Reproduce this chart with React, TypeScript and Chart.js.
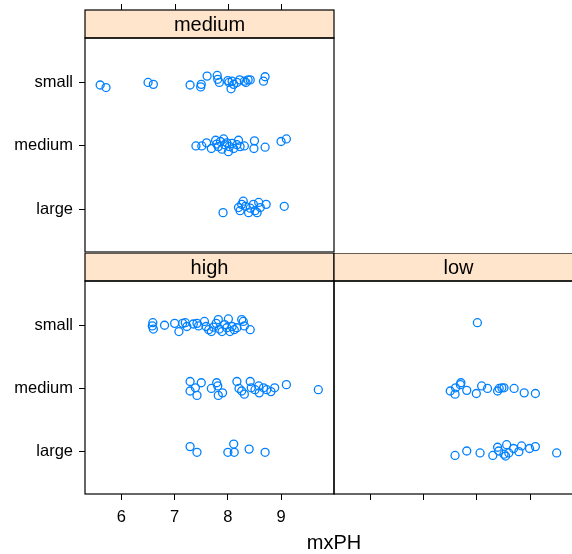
import React, { useEffect, useRef } from "react";
import { Chart, registerables } from "chart.js";

Chart.register(...registerables);

// ---------- data ----------
const sizeLevels = ["large", "medium", "small"]; // y = 1, 2, 3
const xTickValues = [6, 7, 8, 9];
const xLabel = "mxPH";

// speed = medium
const mediumSmallPH = [5.6, 5.71, 6.5, 6.6, 7.29, 7.49, 7.5, 7.61, 7.8, 7.81, 7.84, 8.0, 8.02, 8.06, 8.08, 8.11, 8.17, 8.22, 8.31, 8.34, 8.38, 8.42, 8.67, 8.7];
const mediumSmallJitter = [-0.04, -0.08, 0, -0.03, -0.04, -0.07, -0.03, 0.1, 0.11, 0.05, 0.0, 0.03, 0, -0.1, 0.02, -0.03, 0, 0.04, 0.02, 0, 0.04, 0.04, 0.02, 0.09];
const mediumMediumPH = [7.4, 7.51, 7.6, 7.69, 7.77, 7.79, 7.82, 7.86, 7.89, 7.92, 7.94, 7.98, 8.01, 8.03, 8.08, 8.11, 8.17, 8.2, 8.23, 8.31, 8.5, 8.49, 8.7, 9.0, 9.1];
const mediumMediumJitter = [0, 0, 0.05, -0.04, 0.09, 0.03, -0.01, 0.07, -0.05, 0.11, 0.02, 0.05, -0.09, -0.01, 0.04, -0.04, 0.02, 0.09, -0.01, 0, 0.08, -0.04, -0.02, 0.07, 0.11];
const mediumLargePH = [7.91, 8.2, 8.23, 8.26, 8.29, 8.33, 8.39, 8.42, 8.48, 8.51, 8.55, 8.58, 8.61, 8.72, 9.06];
const mediumLargeJitter = [-0.05, 0.03, -0.02, 0.08, 0.13, 0.05, -0.05, 0.02, 0.08, -0.02, -0.05, 0.11, 0.03, 0.08, 0.05];

// speed = high
const highSmallPH = [6.59, 6.58, 6.6, 6.81, 7.0, 7.08, 7.15, 7.2, 7.23, 7.35, 7.42, 7.45, 7.56, 7.59, 7.64, 7.69, 7.73, 7.78, 7.82, 7.84, 7.89, 7.94, 7.98, 8.01, 8.04, 8.08, 8.12, 8.17, 8.26, 8.29, 8.31, 8.42];
const highSmallJitter = [0.04, -0.01, -0.06, 0, 0.03, -0.1, 0.03, 0.04, -0.02, 0.02, 0.03, -0.01, 0.06, -0.02, -0.07, -0.1, -0.03, 0.03, 0.09, -0.06, -0.1, 0.01, -0.04, 0.1, -0.1, -0.02, -0.07, -0.04, 0.09, 0.06, -0.01, -0.07];
const highMediumPH = [7.29, 7.29, 7.39, 7.42, 7.5, 7.69, 7.79, 7.81, 7.82, 7.9, 8.17, 8.21, 8.26, 8.31, 8.42, 8.44, 8.51, 8.58, 8.59, 8.67, 8.73, 8.81, 8.88, 9.1, 9.7];
const highMediumJitter = [0.11, -0.04, 0.01, -0.11, 0.09, 0, 0.09, 0.04, -0.11, -0.07, 0.11, 0, -0.04, -0.09, 0.11, 0.01, -0.02, 0.04, -0.07, 0.01, -0.02, -0.05, 0.01, 0.06, -0.02];
const highLargePH = [7.29, 7.42, 8.0, 8.11, 8.12, 8.4, 8.7];
const highLargeJitter = [0.08, -0.01, -0.01, 0.12, -0.01, 0.04, -0.01];

// speed = low
const lowSmallPH = [8.01];
const lowSmallJitter = [0.04];
const lowMediumPH = [7.5, 7.59, 7.6, 7.69, 7.7, 7.81, 7.99, 8.09, 8.2, 8.39, 8.42, 8.47, 8.51, 8.7, 8.89, 9.1];
const lowMediumJitter = [-0.04, -0.09, 0.01, 0.06, 0.09, -0.03, -0.08, 0.04, 0, -0.04, 0, 0.01, 0.01, 0, -0.07, -0.08];
const lowLargePH = [7.59, 7.81, 8.06, 8.3, 8.39, 8.41, 8.51, 8.54, 8.56, 8.6, 8.69, 8.79, 8.84, 8.99, 9.1, 9.5];
const lowLargeJitter = [-0.06, 0.01, -0.02, -0.06, 0.07, 0.01, -0.04, -0.07, 0.11, -0.02, 0.05, 0, 0.09, 0.05, 0.08, -0.02];

// ---------- styles ----------
const FONT = '"Liberation Sans", Arial, Helvetica, sans-serif';
const STRIP_BG = "#FFE5CC";
const POINT_COLOR = "#0080FF";
const STRIP_H = 28;
const X_MIN = 5.315;
const X_MAX = 9.995;
const Y_MIN = 0.33;
const Y_MAX = 3.7;

type Group = { ph: number[]; jitter: number[] };
type PanelProps = {
  title: string;
  groups: Group[]; // index 0 = large, 1 = medium, 2 = small
  left: number;
  top: number;
  width: number;
  height: number;
  pad: { top: number; right: number; bottom: number; left: number };
  yAxis: boolean;
  xAxis: "none" | "labels" | "ticks";
  topTicks: boolean;
};

function Panel(p: PanelProps) {
  const ref = useRef<HTMLCanvasElement>(null);
  useEffect(() => {
    if (!ref.current) return;
    const data: { x: number; y: number }[] = [];
    p.groups.forEach((g, i) =>
      g.ph.forEach((v, k) => data.push({ x: v, y: i + 1 + g.jitter[k] }))
    );
    const showX = p.xAxis !== "none";
    const stripPlugin = {
      id: "strip",
      afterDatasetsDraw(chart: any) {
        const { ctx, chartArea: a } = chart;
        ctx.save();
        ctx.fillStyle = STRIP_BG;
        ctx.fillRect(a.left, a.top - STRIP_H, a.right - a.left, STRIP_H);
        ctx.strokeStyle = "#000";
        ctx.lineWidth = 1.2;
        ctx.strokeRect(a.left, a.top - STRIP_H, a.right - a.left, STRIP_H);
        ctx.strokeRect(a.left, a.top, a.right - a.left, a.bottom - a.top);
        ctx.fillStyle = "#000";
        ctx.font = `20px ${FONT}`;
        ctx.textAlign = "center";
        ctx.textBaseline = "middle";
        ctx.fillText(p.title, (a.left + a.right) / 2, a.top - STRIP_H / 2 + 1);
        if (p.topTicks) {
          const xs = chart.scales.x;
          ctx.lineWidth = 1;
          ctx.beginPath();
          xTickValues.forEach((v) => {
            const px = Math.round(xs.getPixelForValue(v)) + 0.5;
            ctx.moveTo(px, a.top - STRIP_H - 6);
            ctx.lineTo(px, a.top - STRIP_H);
          });
          ctx.stroke();
        }
        ctx.restore();
      },
    };
    const chart = new Chart(ref.current, {
      type: "scatter",
      data: {
        datasets: [
          {
            data,
            pointStyle: "circle",
            pointRadius: 4,
            pointBorderWidth: 1.3,
            pointBackgroundColor: "rgba(0,0,0,0)",
            pointBorderColor: POINT_COLOR,
            showLine: false,
          },
        ],
      },
      options: {
        responsive: false,
        animation: false,
        devicePixelRatio: 1,
        layout: { padding: p.pad },
        plugins: { legend: { display: false }, tooltip: { enabled: false } },
        scales: {
          x: {
            type: "linear",
            min: X_MIN,
            max: X_MAX,
            display: showX,
            position: "bottom",
            afterBuildTicks: (s: any) => {
              s.ticks = xTickValues.map((v) => ({ value: v }));
            },
            afterFit: (s: any) => {
              s.height = showX ? 60 : 0;
              s.paddingLeft = 0;
              s.paddingRight = 0;
            },
            grid: {
              drawOnChartArea: false,
              drawTicks: true,
              tickLength: 6,
              color: "#000",
              tickColor: "#000",
              lineWidth: 1,
            },
            border: { display: false },
            ticks: {
              display: p.xAxis === "labels",
              color: "#000",
              font: { size: 16.5, family: FONT },
              padding: 8,
              maxRotation: 0,
              autoSkip: false,
            },
          },
          y: {
            type: "linear",
            min: Y_MIN,
            max: Y_MAX,
            display: p.yAxis,
            position: "left",
            afterBuildTicks: (s: any) => {
              s.ticks = [1, 2, 3].map((v) => ({ value: v }));
            },
            afterFit: (s: any) => {
              s.width = p.yAxis ? 85 : 0;
              s.paddingTop = 0;
              s.paddingBottom = 0;
            },
            grid: {
              drawOnChartArea: false,
              drawTicks: true,
              tickLength: 6,
              color: "#000",
              tickColor: "#000",
              lineWidth: 1,
            },
            border: { display: false },
            ticks: {
              color: "#000",
              font: { size: 16.5, family: FONT },
              padding: 6,
              autoSkip: false,
              callback: (v: any) => sizeLevels[Math.round(Number(v)) - 1] ?? "",
            },
          },
        },
      },
      plugins: [stripPlugin],
    } as any);
    return () => chart.destroy();
  }, []);
  return (
    <canvas
      ref={ref}
      width={p.width}
      height={p.height}
      style={{ position: "absolute", left: p.left, top: p.top, width: p.width, height: p.height }}
    />
  );
}

export default function App() {
  return (
    <div
      style={{
        position: "fixed",
        left: 0,
        top: 0,
        width: 572,
        height: 554,
        overflow: "hidden",
        background: "#fff",
        fontFamily: FONT,
      }}
    >
      <Panel
        title="medium"
        groups={[
          { ph: mediumLargePH, jitter: mediumLargeJitter },
          { ph: mediumMediumPH, jitter: mediumMediumJitter },
          { ph: mediumSmallPH, jitter: mediumSmallJitter },
        ]}
        left={0}
        top={0}
        width={340}
        height={258}
        pad={{ top: 38, right: 6, bottom: 6, left: 0 }}
        yAxis={true}
        xAxis="none"
        topTicks={true}
      />
      <Panel
        title="high"
        groups={[
          { ph: highLargePH, jitter: highLargeJitter },
          { ph: highMediumPH, jitter: highMediumJitter },
          { ph: highSmallPH, jitter: highSmallJitter },
        ]}
        left={0}
        top={253}
        width={340}
        height={301}
        pad={{ top: 28, right: 6, bottom: 0, left: 0 }}
        yAxis={true}
        xAxis="labels"
        topTicks={false}
      />
      <Panel
        title="low"
        groups={[
          { ph: lowLargePH, jitter: lowLargeJitter },
          { ph: lowMediumPH, jitter: lowMediumJitter },
          { ph: lowSmallPH, jitter: lowSmallJitter },
        ]}
        left={328}
        top={253}
        width={262}
        height={301}
        pad={{ top: 28, right: 7, bottom: 0, left: 6 }}
        yAxis={false}
        xAxis="ticks"
        topTicks={false}
      />
      <div
        style={{
          position: "absolute",
          left: 234,
          width: 200,
          top: 531,
          textAlign: "center",
          fontSize: 20,
          lineHeight: "23px",
          color: "#000",
        }}
      >
        {xLabel}
      </div>
    </div>
  );
}
